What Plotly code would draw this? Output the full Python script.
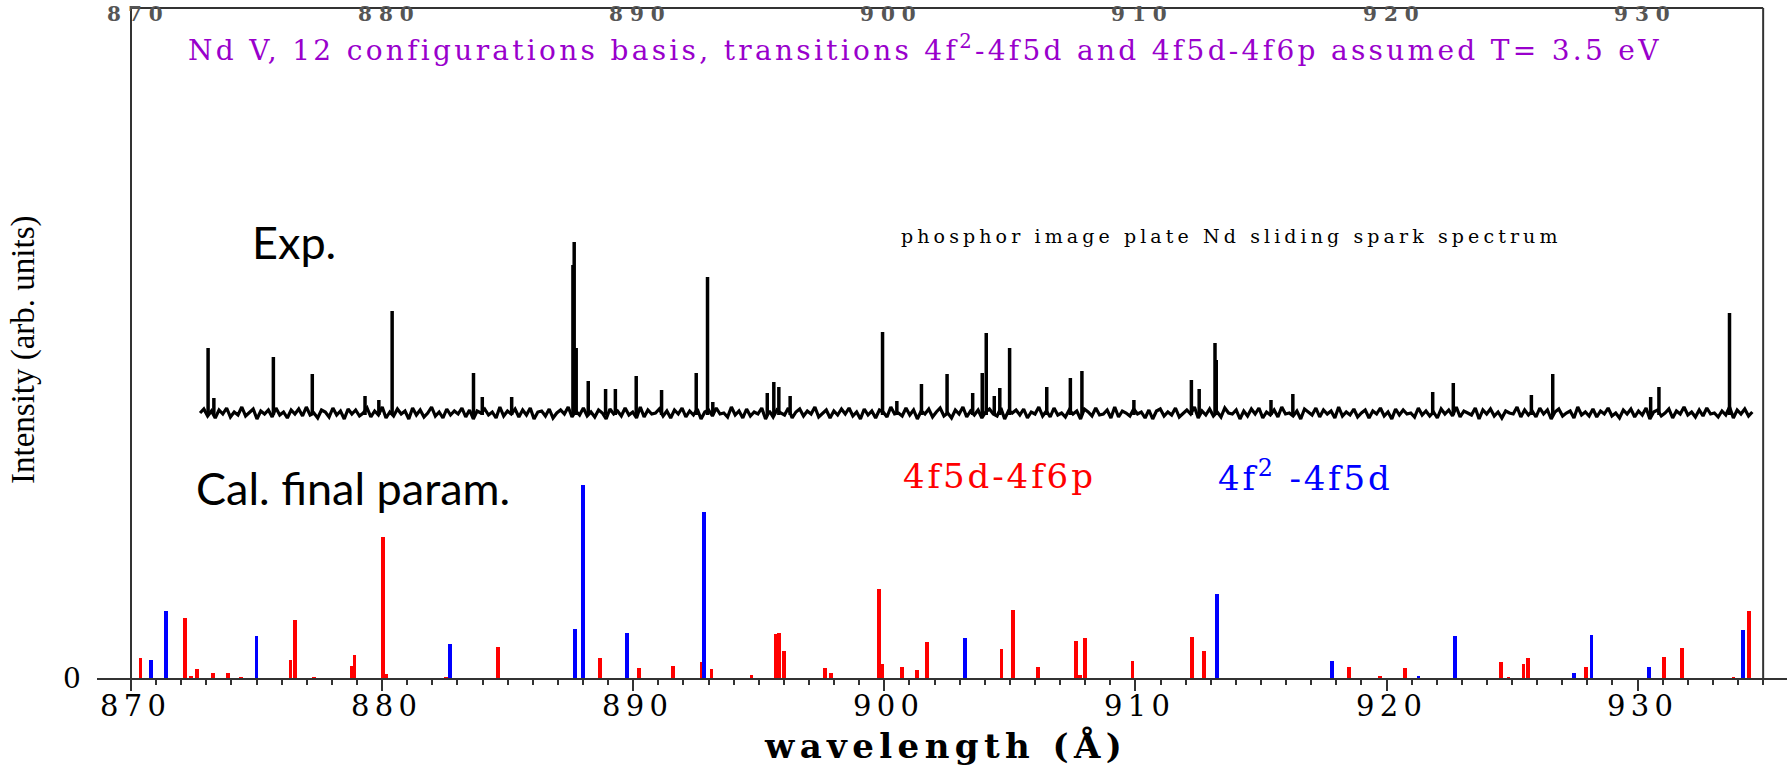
import numpy as np
import plotly.graph_objects as go

# ---------------- data ----------------
# experimental spectrum (baseline + hand-read noise + peaks), y in arbitrary units
exp_start = 872.75
exp_end = 934.57
exp_baseline = 265
exp_noise = [
    0, 4, -3, 2, -5, 3, -1, 5, -4, 1, -2, 6, -3, 0, 4, -6, 2, -1, 3, -4, 5, -2, 1, -5, 3,
    -1, 4, -3, 6, -2, 0, -5, 3, 1, -4, 5, -2, 2, -6, 4, -1, 3, -3, 0, 5, -4, 2, -2, 6, -5,
    1, -3, 4, -1, 2, -6, 5, -2, 3, -4, 0, 6, -3, 1, -5, 4, -2, 2, -1, 5, -4, 3, -6, 2, 0,
    4, -2, 1, -5, 6, -3, 2, -1, 4, -4, 3, -2, 5, -6, 1, 2, -3, 4, -5, 0, 3, -1, 6, -4, 2,
    -2, 5, -3, 1, -4, 3, 0, -6, 4, -1, 2, -3, 5, -2, 1, -5, 6, -4, 3, -1, 0, 4, -3, 2, -5,
    3, -1, 5, -4, 2, -2, 4, -6, 1, 3, -3, 5, -1, 0, -4, 6, -2, 2, -5, 4, -3, 1, -1, 5, -6,
    2, -4, 3, 0, -2, 5, -5, 1, 4, -3, 2, -1, 6, -4, 0, 3, -5, 2, -2, 4, -1, 5, -3, 1, -6,
    4, -2, 2, -5, 3, 1, -4, 6, -1, 0, -3, 5, -2, 3, -6, 2, -1, 4, -4, 1, 5, -3, 0, -5, 3,
    -1, 6, -4, 2, -2, 3, -5, 1, 4, -1, -3, 5, -6, 2, 0, 3, -2, 4, -5, 1, -1, 6, -3, 2, -4,
    5, -2, 0, -4, 3, -1, 2, -6, 4, 1, -3, 5, -2, -1, 3, -5, 6, -4, 2, 0, -3, 4, -1, 1, -5,
    3, -6, 2, 4, -3, 1, -2, 5, -4, 0, 3, -1, 6, -5, 2, -2, 4, -3, 1, -4, 5, 0, -1, 3, -6,
    2, -3, 4, -1, 5, -5, 1, -2, 3, -4, 6, -1, 0, -3, 2, -6, 4, 1, -2, 5, -4, 3, -1, 2, -5,
    6, -3, 1, -2, 4, -4, 0, 3, -5, 2, -1, 5, -3, 1, -6, 4, -2, 3, -1, 0, -4, 5, -2, 2, -3,
    1, -5, 4, -1, 3, -3, 6, -4, 2, 0, -2, 5, -6, 3, -1, 4, -3, 1, -5, 2, 0, -1, 6, -4, 3,
    -2, 2, -4, 5, -1, 3, -6, 1, 4, -3, 0, 2, -5, 6, -2, 1, -3, 4, -4, 2, -1, 5, -3, 0, -5,
    3, -1, 4, -4, 2, -2, 5, -6, 1, 3, -3, 0, 4, -5, 2, -1, 6, -2, 1, -4, 3, -3, 5, -1, 0,
    -4, 2, -2, 6, -5, 3, -1, 4, -3, 1,
]
exp_peak_wl = [
    873.07, 873.30, 875.67, 877.22, 879.32, 879.87, 880.40, 883.64, 883.99, 885.16,
    887.60, 887.65, 887.73, 888.21, 888.90, 889.29, 890.12, 891.13, 892.51, 892.96,
    893.17, 895.34, 895.60, 895.80, 896.25, 899.93, 900.50, 901.48, 902.50, 903.52,
    903.90, 904.06, 904.38, 904.60, 904.99, 906.47, 907.41, 907.87, 909.94, 912.23,
    912.54, 913.17, 913.22, 915.40, 916.27, 921.84, 922.66, 925.77, 926.62, 930.52,
    930.85, 933.66,
]
exp_peak_top = [
    330, 280, 321, 304, 282, 278, 367, 305, 281, 281,
    413, 436, 330, 297, 289, 289, 302, 288, 305, 401,
    276, 285, 296, 291, 282, 346, 277, 294, 304, 285,
    305, 345, 282, 290, 330, 291, 300, 307, 278, 298,
    289, 335, 318, 278, 284, 286, 295, 283, 304, 281,
    291, 365,
]

# calculated lines: 4f5d-4f6p (red)
red_wl = [
    870.38, 872.15, 872.39, 872.62, 873.26, 873.85, 874.38, 876.35, 876.52, 877.28,
    878.79, 878.90, 880.04, 880.14, 882.54, 884.63, 888.69, 890.23, 891.60, 892.73,
    893.12, 894.71, 895.69, 895.81, 896.02, 897.63, 897.89, 899.78, 899.93, 900.70,
    901.31, 901.70, 904.67, 905.14, 906.13, 907.64, 907.80, 907.98, 909.88, 912.26,
    912.72, 918.51, 919.74, 920.74, 924.57, 924.86, 925.46, 925.63, 927.93, 931.06,
    931.77, 933.82, 934.45,
]
red_h = [
    19.7, 59.7, 2.3, 9.0, 5.5, 5.3, 1.0, 18.3, 58.3, 1.0,
    12.3, 23.3, 141.0, 4.3, 1.0, 31.3, 20.0, 10.0, 12.3, 15.7,
    9.0, 3.0, 44.3, 45.0, 27.3, 10.0, 5.3, 89.0, 14.3, 11.0,
    7.7, 36.0, 29.3, 68.3, 11.0, 37.3, 3.0, 40.3, 16.7, 41.3,
    27.0, 11.0, 2.0, 10.0, 15.7, 1.0, 14.3, 20.0, 11.0, 21.0,
    30.3, 1.0, 67.3,
]
# calculated lines: 4f2-4f5d (blue)
blue_wl = [
    870.79, 871.40, 874.99, 882.71, 887.68, 888.00, 889.75, 892.82, 903.22, 913.25,
    917.83, 921.27, 922.73, 927.46, 928.16, 930.45, 934.20,
]
blue_h = [
    18.3, 67.3, 41.7, 34.0, 49.3, 192.7, 45.0, 165.7, 40.3, 84.3,
    16.7, 2.0, 41.7, 5.3, 42.7, 11.0, 48.3,
]

major_ticks = [870, 880, 890, 900, 910, 920, 930]
minor_ticks = [v for v in range(871, 936) if v % 10 != 0]
tick_labels = [str(v) for v in major_ticks]

# ---------------- figure ----------------
W, H = 1787, 765
ML, MR, MT, MB = 97, 0, 4, 87
X0, X1 = 868.646, 935.95
YMAX = 674


def ls(text, px):
    return f'<span style="letter-spacing:{px}px">{text}</span>'


def px2wl(px):
    return X0 + (px - ML) / (W - ML - MR) * (X1 - X0)


def py2paper(py):
    return (678 - py) / YMAX


fig = go.Figure()

# experimental noise band
noise_x = np.linspace(exp_start, exp_end, len(exp_noise))
noise_y = exp_baseline + np.array(exp_noise, dtype=float)
fig.add_trace(go.Scatter(x=noise_x, y=noise_y, mode="lines",
                         line=dict(color="black", width=3.2), hoverinfo="skip",
                         showlegend=False))

# experimental peaks
px_, py_ = [], []
for wl, top in zip(exp_peak_wl, exp_peak_top):
    px_ += [wl, wl, None]
    py_ += [exp_baseline - 2, top, None]
fig.add_trace(go.Scatter(x=px_, y=py_, mode="lines",
                         line=dict(color="black", width=3.5), hoverinfo="skip",
                         showlegend=False))

# calculated sticks
fig.add_trace(go.Bar(x=red_wl, y=red_h, width=0.15,
                     marker=dict(color="#ff0000", line=dict(width=0)),
                     showlegend=False))
fig.add_trace(go.Bar(x=blue_wl, y=blue_h, width=0.14,
                     marker=dict(color="#0000ff", line=dict(width=0)),
                     showlegend=False))

axis_col = "#333333"
fig.update_layout(
    width=W, height=H,
    margin=dict(l=ML, r=MR, t=MT, b=MB),
    paper_bgcolor="white", plot_bgcolor="white",
    barmode="overlay", bargap=0,
    showlegend=False,
    xaxis=dict(range=[X0, X1], showgrid=False, zeroline=False,
               showline=True, linecolor=axis_col, linewidth=2,
               tickmode="array", tickvals=major_ticks, ticks="outside",
               ticklen=11, tickwidth=2, tickcolor=axis_col,
               showticklabels=False,
               minor=dict(tickmode="array", tickvals=minor_ticks,
                          ticks="outside", ticklen=5, tickwidth=2,
                          tickcolor=axis_col, showgrid=False)),
    yaxis=dict(range=[0, YMAX], visible=False, fixedrange=True),
)

# frame (left, right, top)
frame = dict(color=axis_col, width=2)
fig.add_shape(type="line", x0=870, x1=870, y0=0, y1=670, xref="x", yref="y", line=frame)
fig.add_shape(type="line", x0=935, x1=935, y0=0, y1=670, xref="x", yref="y", line=frame)
fig.add_shape(type="line", x0=870, x1=935, y0=670, y1=670, xref="x", yref="y", line=frame)

ann = []
serif = "DejaVu Serif"
# top tick labels
for v, t in zip(major_ticks, tick_labels):
    ann.append(dict(x=v + 0.3, y=py2paper(1), xref="x", yref="paper",
                    text="<b>" + ls(t, 7) + "</b>", showarrow=False,
                    xanchor="center", yanchor="top", borderpad=0,
                    font=dict(family=serif, size=20, color="#555555")))
# bottom tick labels
for v, t in zip(major_ticks, tick_labels):
    ann.append(dict(x=v + 0.18, y=py2paper(706), xref="x", yref="paper",
                    text=ls(t, 5.3), showarrow=False, xanchor="center", yanchor="middle",
                    borderpad=0,
                    font=dict(family=serif, size=29, color="black")))
# zero label
ann.append(dict(x=(72 - ML) / (W - ML), y=0, xref="paper", yref="y",
                text="0", showarrow=False, xanchor="center", yanchor="middle",
                font=dict(family=serif, size=28, color="black")))
# x title
ann.append(dict(x=(945 - ML) / (W - ML), y=py2paper(746), xref="paper", yref="paper",
                text="<b>" + ls("wavelength (Å)", 5.4) + "</b>", showarrow=False,
                xanchor="center", yanchor="middle", borderpad=0,
                font=dict(family=serif, size=34, color="black")))
# y title
ann.append(dict(x=(23 - ML) / (W - ML), y=py2paper(350), xref="paper", yref="paper",
                text="Intensity (arb. units)", textangle=-90, showarrow=False,
                xanchor="center", yanchor="middle",
                font=dict(family="Liberation Serif", size=33, color="black")))
# title
ann.append(dict(x=px2wl(925), y=678 - 48, xref="x", yref="y",
                text=ls("Nd V, 12 configurations basis, transitions 4f<sup>2</sup>-4f5d and 4f5d-4f6p assumed T= 3.5 eV", 3.3),
                showarrow=False, xanchor="center", yanchor="middle",
                font=dict(family=serif, size=28, color="#9900cc")))
# panel labels
ann.append(dict(x=px2wl(250), y=678 - 242, xref="x", yref="y", text="Exp.",
                showarrow=False, xanchor="left", yanchor="middle",
                font=dict(family="Lato", size=45, color="black")))
ann.append(dict(x=px2wl(194), y=678 - 488, xref="x", yref="y", text="Cal. final param.",
                showarrow=False, xanchor="left", yanchor="middle",
                font=dict(family="Lato", size=45, color="black")))
ann.append(dict(x=px2wl(899), y=678 - 236, xref="x", yref="y",
                text=ls("phosphor image plate Nd sliding spark spectrum", 4.1),
                showarrow=False, xanchor="left", yanchor="middle",
                font=dict(family=serif, size=19, color="black")))
ann.append(dict(x=px2wl(901), y=678 - 476, xref="x", yref="y",
                text=ls("4f5d-4f6p", 2.9),
                showarrow=False, xanchor="left", yanchor="middle",
                font=dict(family=serif, size=34, color="#ff0000")))
ann.append(dict(x=px2wl(1216), y=678 - 476, xref="x", yref="y",
                text=ls("4f<sup>2</sup> -4f5d", 2.8),
                showarrow=False, xanchor="left", yanchor="middle",
                font=dict(family=serif, size=34, color="#0000ff")))

fig.update_layout(annotations=ann)
fig.write_html("out.html")
